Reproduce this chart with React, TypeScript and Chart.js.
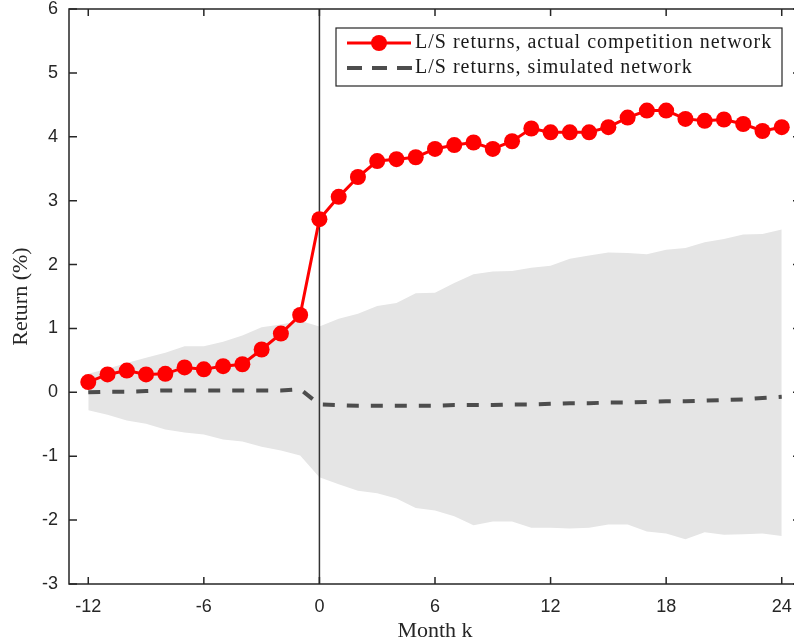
import React, { useEffect, useRef } from 'react';
import { Chart, registerables } from 'chart.js';

Chart.register(...registerables);

const months = [-12, -11, -10, -9, -8, -7, -6, -5, -4, -3, -2, -1, 0, 1, 2, 3, 4, 5, 6, 7, 8, 9, 10, 11, 12, 13, 14, 15, 16, 17, 18, 19, 20, 21, 22, 23, 24];

const actualReturns = [0.16, 0.28, 0.34, 0.28, 0.29, 0.39, 0.36, 0.41, 0.44, 0.67, 0.92, 1.21,
  2.71, 3.06, 3.37, 3.62, 3.65, 3.68, 3.81, 3.87, 3.91, 3.81, 3.93, 4.13, 4.07, 4.07, 4.07, 4.15, 4.30, 4.41, 4.41, 4.28, 4.25, 4.27, 4.20, 4.09, 4.15];

const simulatedReturns = [0.00, 0.01, 0.01, 0.02, 0.03, 0.03, 0.03, 0.03, 0.03, 0.03, 0.03, 0.05,
  -0.19, -0.20, -0.21, -0.21, -0.21, -0.21, -0.21, -0.20, -0.20, -0.20, -0.19, -0.19, -0.18, -0.17, -0.17, -0.16, -0.16, -0.15, -0.14, -0.14, -0.13, -0.12, -0.11, -0.09, -0.07];

const bandUpper = [0.29, 0.37, 0.46, 0.54, 0.62, 0.72, 0.72, 0.79, 0.89, 1.02, 1.06, 1.12,
  1.03, 1.15, 1.23, 1.35, 1.40, 1.55, 1.56, 1.71, 1.85, 1.89, 1.90, 1.95, 1.98, 2.09, 2.14, 2.19, 2.18, 2.16, 2.23, 2.26, 2.35, 2.40, 2.47, 2.48, 2.55];

const bandLower = [-0.28, -0.35, -0.44, -0.49, -0.58, -0.63, -0.66, -0.74, -0.77, -0.85, -0.91, -0.99,
  -1.33, -1.44, -1.54, -1.58, -1.66, -1.81, -1.85, -1.94, -2.08, -2.02, -2.02, -2.12, -2.12, -2.13, -2.12, -2.07, -2.07, -2.18, -2.21, -2.30, -2.19, -2.23, -2.22, -2.21, -2.25];

const xTicks = [-12, -6, 0, 6, 12, 18, 24];
const yTicks = [-3, -2, -1, 0, 1, 2, 3, 4, 5, 6];

const legendLabels = ['L/S returns, actual competition network', 'L/S returns, simulated network'];
const xTitle = 'Month k';
const yTitle = 'Return (%)';

const AXIS_COLOR = '#262626';
const RED = '#ff0000';
const DASH_COLOR = '#4d4d4d';
const BAND_COLOR = '#e5e5e5';

export default function App() {
  const ref = useRef<HTMLCanvasElement>(null);

  useEffect(() => {
    const canvas = ref.current;
    if (!canvas) return;
    const pts = (vals: number[]) => months.map((m, i) => ({ x: m, y: vals[i] }));

    const framePlugin = {
      id: 'matlabFrame',
      beforeDatasetsDraw(chart: any) {
        const { ctx, chartArea } = chart;
        const xs = chart.scales.x;
        const x0 = xs.getPixelForValue(0);
        ctx.save();
        ctx.strokeStyle = '#333333';
        ctx.lineWidth = 1.5;
        ctx.beginPath();
        ctx.moveTo(x0, chartArea.top);
        ctx.lineTo(x0, chartArea.bottom);
        ctx.stroke();
        ctx.restore();
      },
      afterDatasetsDraw(chart: any) {
        const { ctx, chartArea } = chart;
        const { left, right, top, bottom } = chartArea;
        const xs = chart.scales.x;
        const ys = chart.scales.y;
        const tl = 7;
        ctx.save();
        ctx.strokeStyle = AXIS_COLOR;
        ctx.lineWidth = 1.5;
        ctx.beginPath();
        xTicks.forEach((v) => {
          const px = xs.getPixelForValue(v);
          ctx.moveTo(px, bottom);
          ctx.lineTo(px, bottom - tl);
          ctx.moveTo(px, top);
          ctx.lineTo(px, top + tl);
        });
        yTicks.forEach((v) => {
          const py = ys.getPixelForValue(v);
          ctx.moveTo(left, py);
          ctx.lineTo(left + tl + 1, py);
          ctx.moveTo(right, py);
          ctx.lineTo(right - tl - 1, py);
        });
        ctx.stroke();
        ctx.strokeRect(left, top, right - left, bottom - top);

        // legend
        const boxW = 446;
        const boxH = 58;
        const L = right - 19 - boxW;
        const T = top + 19;
        ctx.fillStyle = '#ffffff';
        ctx.fillRect(L, T, boxW, boxH);
        ctx.lineWidth = 1.2;
        ctx.strokeStyle = AXIS_COLOR;
        ctx.strokeRect(L, T, boxW, boxH);

        const y1 = T + 15;
        const y2 = T + 40;
        ctx.strokeStyle = RED;
        ctx.lineWidth = 3;
        ctx.beginPath();
        ctx.moveTo(L + 11, y1);
        ctx.lineTo(L + 75, y1);
        ctx.stroke();
        ctx.fillStyle = RED;
        ctx.beginPath();
        ctx.arc(L + 43, y1, 8, 0, Math.PI * 2);
        ctx.fill();
        ctx.strokeStyle = DASH_COLOR;
        ctx.lineWidth = 4;
        ctx.setLineDash([15, 10]);
        ctx.lineCap = 'butt';
        ctx.beginPath();
        ctx.moveTo(L + 11, y2);
        ctx.lineTo(L + 76, y2);
        ctx.stroke();
        ctx.setLineDash([]);

        ctx.fillStyle = '#1a1a1a';
        ctx.font = '20px "Liberation Serif"';
        (ctx as any).letterSpacing = '1px';
        ctx.textBaseline = 'middle';
        ctx.textAlign = 'left';
        ctx.fillText(legendLabels[0], L + 79, y1);
        ctx.fillText(legendLabels[1], L + 79, y2);
        ctx.restore();
      },
    };

    const chart = new Chart(canvas, {
      type: 'line',
      data: {
        datasets: [
          {
            label: legendLabels[0],
            data: pts(actualReturns),
            borderColor: RED,
            backgroundColor: RED,
            borderWidth: 3,
            pointRadius: 8,
            pointBorderWidth: 0,
            pointBackgroundColor: RED,
            fill: false,
          },
          {
            label: legendLabels[1],
            data: pts(simulatedReturns),
            borderColor: DASH_COLOR,
            borderWidth: 4,
            borderDash: [12, 12],
            borderCapStyle: 'butt',
            pointRadius: 0,
            fill: false,
          },
          {
            label: 'upper',
            data: pts(bandUpper),
            borderWidth: 0,
            borderColor: 'rgba(0,0,0,0)',
            backgroundColor: BAND_COLOR,
            pointRadius: 0,
            fill: '+1',
          },
          {
            label: 'lower',
            data: pts(bandLower),
            borderWidth: 0,
            borderColor: 'rgba(0,0,0,0)',
            backgroundColor: BAND_COLOR,
            pointRadius: 0,
            fill: false,
          },
        ],
      } as any,
      options: {
        responsive: false,
        animation: false,
        layout: { autoPadding: false, padding: { top: 9, right: 9, left: 0, bottom: 0 } },
        plugins: {
          legend: { display: false },
          tooltip: { enabled: false },
          filler: { drawTime: 'beforeDatasetsDraw' },
        } as any,
        scales: {
          x: {
            type: 'linear',
            min: -13,
            max: 25,
            afterBuildTicks: (s: any) => {
              s.ticks = xTicks.map((v) => ({ value: v }));
            },
            afterFit: (s: any) => {
              s.height = 58;
              s.paddingLeft = 0;
              s.paddingRight = 0;
            },
            grid: { display: false, drawTicks: false },
            border: { display: false },
            ticks: {
              font: { family: 'Liberation Sans', size: 18 },
              color: AXIS_COLOR,
              padding: 12,
              maxRotation: 0,
              autoSkip: false,
            },
            title: {
              display: true,
              text: xTitle,
              font: { family: 'Liberation Serif', size: 22, lineHeight: 1 },
              color: AXIS_COLOR,
              padding: 0,
            },
          },
          y: {
            type: 'linear',
            min: -3,
            max: 6,
            afterBuildTicks: (s: any) => {
              s.ticks = yTicks.map((v) => ({ value: v }));
            },
            afterFit: (s: any) => {
              s.width = 69;
              s.paddingTop = 0;
              s.paddingBottom = 0;
            },
            grid: { display: false, drawTicks: false },
            border: { display: false },
            ticks: {
              font: { family: 'Liberation Sans', size: 18 },
              color: AXIS_COLOR,
              padding: 11,
            },
            title: {
              display: true,
              text: yTitle,
              font: { family: 'Liberation Serif', size: 22, lineHeight: 1 },
              color: AXIS_COLOR,
              padding: { top: 10, bottom: 0 },
            },
          },
        },
      } as any,
      plugins: [framePlugin],
    });

    return () => chart.destroy();
  }, []);

  return (
    <canvas
      ref={ref}
      width={810}
      height={642}
      style={{ position: 'fixed', left: 0, top: 0, display: 'block', background: '#ffffff' }}
    />
  );
}
